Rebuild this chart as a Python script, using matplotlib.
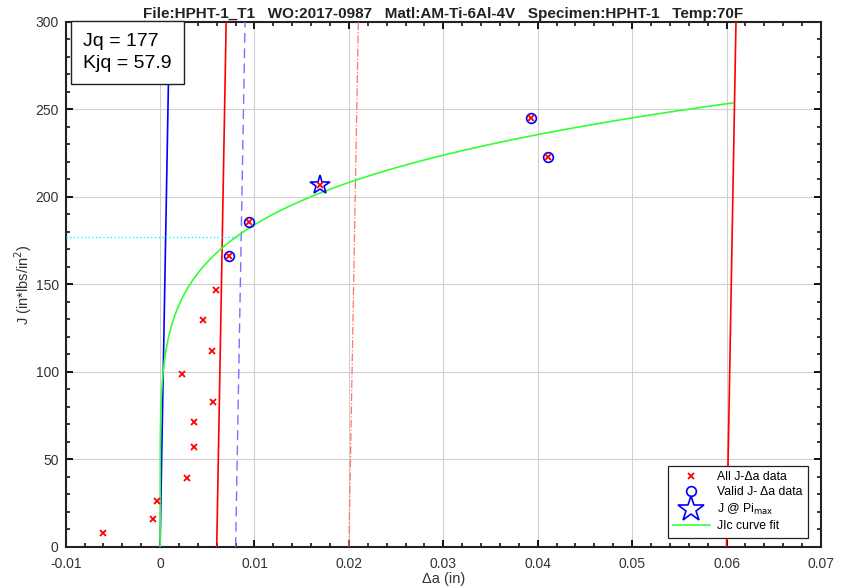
import numpy as np
import matplotlib
matplotlib.use("Agg")
import matplotlib.pyplot as plt
from matplotlib.ticker import MultipleLocator

plt.rcParams["font.family"] = ["Liberation Sans", "DejaVu Sans"]

# all J-da points
all_da = [-0.0060, -0.0007, -0.0003, 0.0028, 0.0036, 0.0036, 0.0056, 0.0055,
          0.0023, 0.0045, 0.0059, 0.0073, 0.0094, 0.0169, 0.0393, 0.0411]
all_j = [8, 16, 26, 39.5, 57, 71.5, 83, 112, 98.5, 129.5, 147, 166, 185.5, 207, 245, 223]

valid_da = [0.0073, 0.0094, 0.0393, 0.0411]
valid_j = [166, 185.5, 245, 223]

pimax_da = [0.0169]
pimax_j = [207]

# power law fit J = C1 * da^C2
fit_c1 = 417.7
fit_c2 = 0.178
fit_end = 0.0607

# construction lines
blunt_slope = 300000.0
offsets_solid = [0.006, 0.060]
offset_dashed = 0.008
offset_dashdot = 0.020

jq = 177
kjq = 57.9

fig = plt.figure(figsize=(8.42, 5.88), dpi=100)
ax = fig.add_axes([0.078, 0.070, 0.897, 0.893])

j_line = np.array([0, 300])
ax.plot(j_line / blunt_slope, j_line, color="blue", lw=1.2, zorder=3)
for off in offsets_solid:
    ax.plot(off + j_line / blunt_slope, j_line, color="red", lw=1.2, zorder=3)
ax.plot(offset_dashed + j_line / blunt_slope, j_line, color=(0.45, 0.45, 1.0),
        lw=1.0, ls=(0, (7, 4)), zorder=3)
ax.plot(offset_dashdot + j_line / blunt_slope, j_line, color=(1.0, 0.45, 0.45),
        lw=0.9, ls="-.", zorder=3)

# Jq horizontal marker
ax.plot([-0.01, offset_dashed + jq / blunt_slope], [jq, jq], color="cyan",
        lw=1.0, ls=":", zorder=3)

da_fit = np.linspace(0, fit_end, 2000)
ax.plot(da_fit, fit_c1 * da_fit ** fit_c2, color=(0.2, 1.0, 0.2), lw=1.2,
        zorder=4, label="JIc curve fit")

ax.plot(all_da, all_j, ls="none", marker="x", color="red", ms=4.5, mew=1.3,
        zorder=6, label="All J-\u0394a data")
ax.plot(valid_da, valid_j, ls="none", marker="o", mfc="none", mec="blue",
        ms=7, mew=1.2, zorder=5, label="Valid J- \u0394a data")
ax.plot(pimax_da, pimax_j, ls="none", marker="*", mfc="none", mec="blue",
        ms=15, mew=1.2, zorder=5, label="J @ Pi$_{\\rm max}$")

ax.set_xlim(-0.01, 0.07)
ax.set_ylim(0, 300)
ax.xaxis.set_minor_locator(MultipleLocator(0.002))
ax.yaxis.set_major_locator(MultipleLocator(50))
ax.yaxis.set_minor_locator(MultipleLocator(10))
ax.set_xticks(np.arange(-0.01, 0.0701, 0.01))
ax.set_xticklabels(["-0.01", "0", "0.01", "0.02", "0.03", "0.04", "0.05", "0.06", "0.07"])
ax.tick_params(which="both", direction="in", top=True, right=True, labelsize=10,
               labelcolor="#333333")
ax.tick_params(axis="x", which="major", pad=7)
ax.tick_params(axis="y", which="major", pad=5)
ax.tick_params(which="major", length=5, width=1.3)
ax.tick_params(which="minor", length=3, width=1.1)
ax.grid(True, which="major", color="#d0d0d0", lw=0.8)
for s in ax.spines.values():
    s.set_linewidth(1.5)
    s.set_color("#222222")

ax.set_xlabel("\u0394a (in)", fontsize=10.5, labelpad=1, color="#333333")
ax.set_ylabel("J (in*lbs/in$^2$)", fontsize=10.5, labelpad=1, color="#333333")
ax.set_title("File:HPHT-1_T1   WO:2017-0987   Matl:AM-Ti-6Al-4V   Specimen:HPHT-1   Temp:70F",
             fontsize=11, fontweight="bold", pad=3, color="#222222")

ax.text(0.023, 0.978, f"Jq = {jq}\nKjq = {kjq}", transform=ax.transAxes,
        fontsize=14, va="top", ha="left", linespacing=1.35,
        bbox=dict(boxstyle="square,pad=0.62", fc="white", ec="#222222", lw=1.0),
        zorder=10)

handles, labels = ax.get_legend_handles_labels()
order = [1, 2, 3, 0]
leg = ax.legend([handles[i] for i in order], [labels[i] for i in order],
                loc="lower right", bbox_to_anchor=(0.983, 0.017), borderaxespad=0,
                fontsize=8.8, fancybox=False, edgecolor="#222222", framealpha=1,
                handlelength=3.0, borderpad=0.45, labelspacing=0.28,
                handletextpad=0.6)
leg.get_frame().set_linewidth(0.9)
leg.legend_handles[2].set_markersize(19)

fig.savefig("out.png", dpi=100)
